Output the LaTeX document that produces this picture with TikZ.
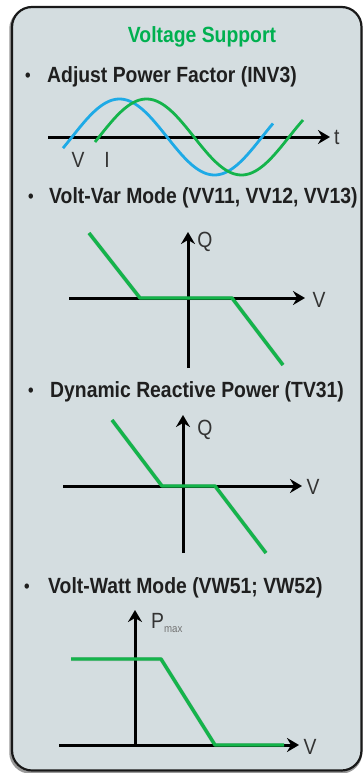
\documentclass[tikz,border=0pt]{standalone}
\usepackage{fontspec}
\setmainfont{Liberation Sans}[FakeStretch=0.88]
\usetikzlibrary{arrows.meta}
\definecolor{panel}{RGB}{212,221,224}
\definecolor{ttlgreen}{RGB}{0,176,80}
\definecolor{crvgreen}{RGB}{20,180,75}
\definecolor{crvblue}{RGB}{30,170,230}
\definecolor{frm}{RGB}{25,25,25}
\tikzset{
  frame/.style={draw=frm,line width=2.2pt,fill=panel,rounded corners=20pt},
  heading/.style={anchor=base west,inner sep=0pt,font=\fontsize{22}{26}\selectfont\bfseries,text=black!88},
  bul/.style={anchor=base,inner sep=0pt,font=\fontsize{18}{22}\selectfont\bfseries,text=black!88},
  axlbl/.style={inner sep=0pt,font=\fontsize{22}{25}\selectfont,text=black!80},
  axis/.style={draw=black,line width=3pt,-{Stealth[length=12pt,width=14pt,inset=4pt]}},
  gline/.style={draw=crvgreen,line width=3.4pt,line join=round},
  gshadow/.style={draw=black,opacity=0.15,line width=4pt,line join=round},
  wave/.style={line width=2.8pt,samples=120,smooth}
}
\begin{document}
\begin{tikzpicture}[x=1pt,y=-1pt]
\useasboundingbox (0,0) rectangle (363,773);
% frame shadow and frame
\draw[draw=black!40,line width=2.5pt,rounded corners=20pt] (10.5,9) rectangle (361,772.5);
\path[frame] (12,7) rectangle (361.5,770.5);

% title
\node[anchor=base,inner sep=0pt,font=\fontsize{22}{26}\selectfont\bfseries,text=ttlgreen] (title) at (202,43) {Voltage Support};

% ---- section 1 ----
\node[bul] (b1) at (28,82) {\textbullet};
\node[heading] (h1) at (47,83) {Adjust Power Factor (INV3)};
\coordinate (t0) at (48,137);
\coordinate (t1) at (330,137);
\draw[axis] (t0) -- (t1);
\node[axlbl,anchor=base west] (tl) at (334,144) {t};
\draw[wave,crvblue,domain=63:273] plot (\x,{137-38*sin(1.894737*(\x-72))});
\draw[wave,crvgreen,domain=95:303] plot (\x,{137-38*sin(1.894737*(\x-99))});
\node[axlbl,anchor=base] (vl) at (78,167) {V};
\node[axlbl,anchor=base] (il) at (107,167) {I};

% ---- section 2 ----
\node[bul] (b2) at (31,202) {\textbullet};
\node[heading] (h2) at (49,203) {Volt-Var Mode (VV11, VV12, VV13)};
\coordinate (a2l) at (69,298);
\coordinate (a2r) at (305,298);
\coordinate (a2b) at (188,368);
\coordinate (a2t) at (188,232);
\draw[axis] (a2l) -- (a2r);
\draw[axis] (a2b) -- (a2t);
\node[axlbl,anchor=base] (v2) at (319,307) {V};
\node[axlbl,anchor=base] (q2) at (205,247) {Q};
\coordinate (g2a) at (89,233);
\coordinate (g2b) at (140,298);
\coordinate (g2c) at (232,298);
\coordinate (g2d) at (283,365);
\draw[gshadow,shift={(1.5,2)}] (g2a) -- (g2b) -- (g2c) -- (g2d);
\draw[gline] (g2a) -- (g2b) -- (g2c) -- (g2d);

% ---- section 3 ----
\node[bul] (b3) at (31,396) {\textbullet};
\node[heading] (h3) at (50,397) {Dynamic Reactive Power (TV31)};
\coordinate (a3l) at (63,486);
\coordinate (a3r) at (302,486);
\coordinate (a3b) at (183,553);
\coordinate (a3t) at (183,415);
\draw[axis] (a3l) -- (a3r);
\draw[axis] (a3b) -- (a3t);
\node[axlbl,anchor=base] (v3) at (313,494) {V};
\node[axlbl,anchor=base] (q3) at (205,435) {Q};
\coordinate (g3a) at (112,420);
\coordinate (g3b) at (162,486);
\coordinate (g3c) at (215,486);
\coordinate (g3d) at (266,553);
\draw[gshadow,shift={(1.5,2)}] (g3a) -- (g3b) -- (g3c) -- (g3d);
\draw[gline] (g3a) -- (g3b) -- (g3c) -- (g3d);

% ---- section 4 ----
\node[bul] (b4) at (27,592) {\textbullet};
\node[heading] (h4) at (48,593) {Volt-Watt Mode (VW51; VW52)};
\coordinate (a4l) at (59,745);
\coordinate (a4r) at (299,745);
\coordinate (a4b) at (135,745);
\coordinate (a4t) at (135,610);
\draw[axis] (a4l) -- (a4r);
\draw[axis] (a4b) -- (a4t);
\node[axlbl,anchor=base] (v4) at (310,754) {V};
\node[axlbl,anchor=base west] (p4) at (151,628) {P\raisebox{-0.35ex}{\fontsize{11}{12}\selectfont\color{black!55}max}};
\coordinate (g4a) at (71,659);
\coordinate (g4b) at (161,659);
\coordinate (g4c) at (215,745);
\coordinate (g4d) at (284,745);
\draw[gshadow,shift={(1.5,2)}] (g4a) -- (g4b) -- (g4c) -- (g4d);
\draw[gline] (g4a) -- (g4b) -- (g4c) -- (g4d);
\end{tikzpicture}
\end{document}
